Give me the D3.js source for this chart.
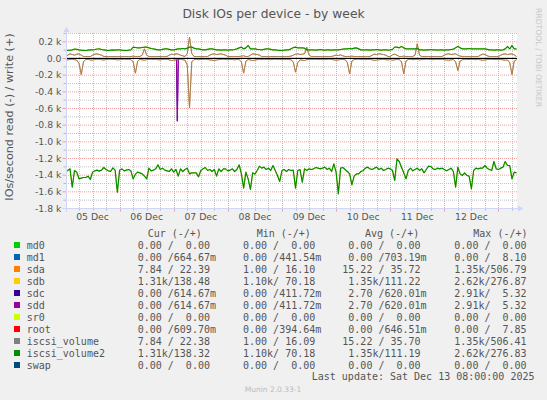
<!DOCTYPE html>
<html><head><meta charset="utf-8">
<script src="https://cdn.jsdelivr.net/npm/d3@7"></script>
<style>
html,body{margin:0;padding:0;background:#F0F0F0;}
svg{display:block;}
text{font-family:"DejaVu Sans",sans-serif;fill:#555;}
text.mono{font-family:"DejaVu Sans Mono",monospace;white-space:pre;}
</style></head><body>
<svg id="c" width="547" height="400"></svg>
<script>
// ---------- data ----------
const title = "Disk IOs per device - by week";
const yAxisLabel = "IOs/second read (-) / write (+)";
const startTime = "2025-12-05T00:00:00";
const endTime = "2025-12-13T08:00:00";
const yMin = -1800, yMax = 300;
const yTickValues = [200, 0, -200, -400, -600, -800, -1000, -1200, -1400, -1600, -1800];
const yTickLabels = ["0.2 k", "0.0", "-0.2 k", "-0.4 k", "-0.6 k", "-0.8 k", "-1.0 k", "-1.2 k", "-1.4 k", "-1.6 k", "-1.8 k"];
const xTickDays = ["2025-12-05", "2025-12-06", "2025-12-07", "2025-12-08", "2025-12-09", "2025-12-10", "2025-12-11", "2025-12-12"];
const xTickLabels = ["05 Dec", "06 Dec", "07 Dec", "08 Dec", "09 Dec", "10 Dec", "11 Dec", "12 Dec"];

const seriesNames = ["md0", "md1", "sda", "sdb", "sdc", "sdd", "sr0", "root", "iscsi_volume", "iscsi_volume2", "swap"];
const seriesColors = ["#00CC00", "#0066B3", "#FF8000", "#FFCC00", "#330099", "#990099", "#CCFF00", "#FF0000", "#808080", "#008F00", "#00487D"];

const legendHeaders = ["Cur (-/+)", "Min (-/+)", "Avg (-/+)", "Max (-/+)"];
const curValues = [" 0.00 /  0.00", " 0.00 /664.67m", " 7.84 / 22.39", " 1.31k/138.48", " 0.00 /614.67m", " 0.00 /614.67m", " 0.00 /  0.00", " 0.00 /609.70m", " 7.84 / 22.38", " 1.31k/138.32", " 0.00 /  0.00"];
const minValues = [" 0.00 /  0.00", " 0.00 /441.54m", " 1.00 / 16.10", " 1.10k/ 70.18", " 0.00 /411.72m", " 0.00 /411.72m", " 0.00 /  0.00", " 0.00 /394.64m", " 1.00 / 16.09", " 1.10k/ 70.18", " 0.00 /  0.00"];
const avgValues = [" 0.00 /  0.00", " 0.00 /703.19m", "15.22 / 35.72", " 1.35k/111.22", " 2.70 /620.01m", " 2.70 /620.01m", " 0.00 /  0.00", " 0.00 /646.51m", "15.22 / 35.70", " 1.35k/111.19", " 0.00 /  0.00"];
const maxValues = [" 0.00 /  0.00", " 0.00 /  8.10", " 1.35k/506.79", " 2.62k/276.87", " 2.91k/  5.32", " 2.91k/  5.32", " 0.00 /  0.00", " 0.00 /  7.85", " 1.35k/506.41", " 2.62k/276.83", " 0.00 /  0.00"];
const lastUpdate = "Last update: Sat Dec 13 08:00:00 2025";
const muninVersion = "Munin 2.0.33-1";
const watermark = "RRDTOOL / TOBI OETIKER";

// hourly samples (IOs/s), starting at startTime
const iscsi2Read = [
 1356,1344,1324,1544,1344,1364,1444,1436,1428,1428,
 1412,1452,1364,1348,1340,1352,1340,1308,1332,1348,
 1356,1312,1340,1604,1340,1324,1348,1340,1332,1348,
 1444,1388,1364,1372,1384,1412,1444,1316,1348,1340,
 1324,1276,1332,1316,1340,1348,1356,1324,1364,1332,
 1412,1324,1356,1332,1316,1384,1372,1372,1372,1420,
 1344,1324,1308,1344,1332,1356,1332,1412,1324,1356,
 1324,1324,1348,1340,1324,1356,1332,1276,1384,1556,
 1364,1444,1572,1372,1388,1344,1292,1316,1304,1332,
 1316,1344,1284,1344,1404,1476,1344,1332,1356,1332,
 1344,1340,
 1556,1344,1332,1484,1324,1344,1324,1332,1324,1308,
 1316,1324,1316,1304,1332,1316,1356,1264,1364,1624,
 1316,1308,1332,1356,1384,1516,1412,1384,1384,1356,
 1344,1316,1304,1324,1332,1316,1304,1332,1316,1344,
 1332,1316,1324,1344,1464,1204,1236,1304,1372,1444,
 1344,1316,1348,1332,1316,1344,1324,1372,1332,1292,
 1296,1324,1332,1316,1324,1316,1332,1348,1332,1316,
 1356,1544,1304,1384,1404,1372,1404,1412,1564,1344,
 1316,1324,1316,1316,1284,1316,1332,1344,1236,1324,
 1332,1316,1304,1236,1284,1284,1444,1364,1372];
const iscsi2Write = [
 96,98,100,104,114,110,104,100,98,96,
 100,104,104,108,114,116,108,104,100,96,
 100,104,100,104,104,100,98,96,100,104,
 136,132,128,128,132,136,136,128,120,116,
 110,104,104,110,116,116,110,104,104,110,
 116,116,120,116,124,136,136,124,116,116,
 110,104,104,110,116,116,110,104,104,100,
 104,104,100,104,104,108,116,128,136,116,
 128,156,116,116,116,110,108,104,110,116,
 116,110,104,104,100,98,96,100,104,104,
 116,130,136,128,128,128,124,104,104,104,
 104,100,104,108,104,100,104,104,100,104,104,104,108,
 112,116,116,120,116,124,128,116,104,104,
 104,104,100,104,104,108,104,100,104,104,100,104,110,
 136,136,128,144,128,116,116,116,116,116,120,
 104,104,100,104,104,108,104,104,100,104,104,100,104,104,108,112,
 130,144,128,116,116,116,120,116,116,116,116,116,116,116,110,
 104,104,100,104,104,100,104,116,144,116,156,116,116];
const iscsiWrite = [
 24,40,56,48,40,52,56,40,24,24,
 24,24,40,52,56,48,40,24,24,24,
 24,24,24,24,24,24,24,24,24,24,
 28,24,24,24,40,116,40,24,24,24,
 24,24,24,24,24,24,40,52,48,56,
 52,40,32,24,60,256,60,24,24,24,
 24,24,24,24,40,52,56,48,52,56,
 48,40,24,24,24,24,24,24,28,32,
 24,24,40,56,52,48,40,24,24,24,
 24,24,24,24,24,24,24,24,24,24,
 28,40,52,56,48,52,56,136,40,24,
 24,24,24,24,24,24,24,24,24,32,
 40,36,44,32,24,24,24,28,24,24,
 24,24,24,24,24,24,40,52,48,56,
 52,48,40,24,24,44,52,40,24,24,
 28,24,24,24,24,40,176,40,24,24,
 24,24,24,24,24,24,24,24,40,52,
 56,48,52,56,40,28,24,24,24,24,
 24,24,24,24,40,52,48,32,24,24,
 24,24,24,40,52,56,48,52,56,44,
 24];
const iscsiRead = [
 12,16,10,8,14,20,60,192,36,12,
 10,16,20,12,8,10,14,18,12,10,
 8,10,12,16,14,10,8,12,10,12,
 40,176,30,10,16,20,14,10,8,12,
 10,14,16,12,10,8,16,24,20,16,
 12,10,14,20,80,592,40,12,10,14,
 12,10,8,12,16,20,24,18,12,10,
 8,12,14,10,12,16,10,12,40,176,
 30,12,18,24,20,14,10,12,8,10,
 12,14,10,8,12,10,14,12,10,12,
 16,40,164,50,16,20,24,14,12,10,
 10,8,12,10,14,12,10,8,12,16,
 20,16,12,10,14,50,184,30,12,10,
 8,12,10,14,12,10,16,22,18,14,
 12,10,14,16,12,20,16,10,12,40,
 184,30,12,10,14,12,10,16,12,10,
 8,10,12,14,10,12,10,8,14,18,
 20,16,12,40,144,30,14,12,10,12,
 10,12,14,10,16,20,18,12,10,8,
 12,10,14,12,16,20,18,50,192,30,
 16];
// sparse series as [hour offset, value]
const sddRead = [[0,0],[49.2,0],[49.6,752],[50.0,0],[200,0]];
const zeroFlat = [[0,0],[200,0]];
const md1Write = [[0,0.70],[200,0.70]];
const sddWrite = [[0,0.62],[200,0.62]];
const rootWrite = [[0,0.65],[200,0.65]];

const seriesRead = [zeroFlat, zeroFlat, iscsiRead, iscsi2Read, sddRead, sddRead, zeroFlat, zeroFlat, iscsiRead, iscsi2Read, zeroFlat];
const seriesWrite = [zeroFlat, md1Write, iscsiWrite, iscsi2Write, sddWrite, sddWrite, zeroFlat, rootWrite, iscsiWrite, iscsi2Write, zeroFlat];

// ---------- drawing ----------
const svg = d3.select("#c");
const t0 = new Date(startTime), t1 = new Date(endTime);
const x = d3.scaleTime().domain([t0, t1]).range([65.5, 516.5]);
const y = d3.scaleLinear().domain([yMin, yMax]).range([208.5, 33.5]);
const HOUR = 3600000;
const X0 = 66, X1 = 517, Y0 = 33, Y1 = 208.5;

function toPts(arr, sign) {
  return arr.map((d, i) => Array.isArray(d)
    ? {t: new Date(+t0 + d[0] * HOUR), v: sign * d[1]}
    : {t: new Date(+t0 + i * HOUR), v: sign * d});
}

// canvas
svg.append("rect").attr("x", X0).attr("y", Y0).attr("width", X1 - X0).attr("height", Y1 - Y0).attr("fill", "#fff");

const gGrid = svg.append("g");
const minorCol = "#c4c4c4", majorCol = "#f2a0a0";
// vertical grid
const minorT = d3.timeHour.every(6).range(t0, t1).filter(t => t.getHours() !== 0);
const majorT = d3.timeDay.range(new Date(+t0 + 1), t1);
minorT.forEach(t => {
  const xx = Math.round(x(t)) + 0.5;
  gGrid.append("line").attr("x1", xx).attr("x2", xx).attr("y1", Y0).attr("y2", 208)
    .attr("stroke", minorCol).attr("stroke-dasharray", "1,1");
  gGrid.append("line").attr("x1", xx).attr("x2", xx).attr("y1", 208).attr("y2", 210.5).attr("stroke", "#bbb");
});
majorT.forEach(t => {
  const xx = Math.round(x(t)) + 0.5;
  gGrid.append("line").attr("x1", xx).attr("x2", xx).attr("y1", Y0).attr("y2", 208)
    .attr("stroke", majorCol).attr("stroke-dasharray", "1,1");
  gGrid.append("line").attr("x1", xx).attr("x2", xx).attr("y1", 208).attr("y2", 211.5).attr("stroke", "#f0a0a0");
});
// horizontal grid
d3.range(yMin + 100, yMax + 1, 100).forEach(v => {
  const yy = y(v);
  const major = v % 200 === 0;
  gGrid.append("line").attr("x1", X0).attr("x2", X1).attr("y1", yy).attr("y2", yy)
    .attr("stroke", major ? majorCol : minorCol).attr("stroke-dasharray", "1,1");
  gGrid.append("line").attr("x1", major ? 62.5 : 63.5).attr("x2", 66).attr("y1", yy).attr("y2", yy)
    .attr("stroke", major ? "#f0a0a0" : "#bbb");
});

// series
svg.append("clipPath").attr("id", "clip").append("rect")
  .attr("x", X0).attr("y", Y0).attr("width", X1 - X0).attr("height", Y1 - Y0);
const gLines = svg.append("g").attr("clip-path", "url(#clip)");
const line = d3.line().x(d => x(d.t)).y(d => y(d.v));
seriesNames.forEach((n, i) => {
  [toPts(seriesRead[i], -1), toPts(seriesWrite[i], 1)].forEach(pts => {
    gLines.append("path").attr("d", line(pts)).attr("fill", "none")
      .attr("stroke", seriesColors[i]).attr("stroke-width", n === "iscsi_volume2" ? 1.2 : 1)
      .attr("stroke-opacity", n === "iscsi_volume" ? 0.75 : 1)
      .attr("stroke-linejoin", "round");
  });
});
// zero rule
gLines.append("line").attr("x1", X0).attr("x2", X1).attr("y1", y(0)).attr("y2", y(0))
  .attr("stroke", "#000").attr("stroke-width", 1);

// axes
const axisCol = "#CFD6F8";
svg.append("line").attr("x1", 62).attr("x2", 519).attr("y1", 208.5).attr("y2", 208.5).attr("stroke", axisCol);
svg.append("line").attr("x1", 66.5).attr("x2", 66.5).attr("y1", 212).attr("y2", 30).attr("stroke", axisCol);
svg.append("path").attr("d", "M518,205.5L523.5,208.5L518,211.5Z").attr("fill", axisCol);
svg.append("path").attr("d", "M63.5,32L66.5,26.5L69.5,32Z").attr("fill", axisCol);

// y tick labels
yTickValues.forEach((v, i) => {
  svg.append("text").attr("x", 61.5).attr("y", y(v) + 3.3).attr("text-anchor", "end")
    .attr("font-size", "9.3px").text(yTickLabels[i]);
});
// x tick labels (centred at noon)
xTickDays.forEach((d, i) => {
  const t = new Date(d + "T12:00:00");
  svg.append("text").attr("x", x(t)).attr("y", 220).attr("text-anchor", "middle")
    .attr("font-size", "9.3px").text(xTickLabels[i]);
});

// title & labels
svg.append("text").attr("x", 273.5).attr("y", 18).attr("text-anchor", "middle")
  .attr("font-size", "12.3px").text(title);
svg.append("text").attr("transform", "translate(13,117) rotate(-90)").attr("text-anchor", "middle")
  .attr("font-size", "11.2px").text(yAxisLabel);
svg.append("text").attr("transform", "translate(535.5,8) rotate(90)")
  .attr("font-size", "7.7px").style("fill", "#c8c8c8").text(watermark);

// legend
const colX = [131.7, 237, 342.3, 448.3];
const headX = [147.7, 256.7, 365, 473.3];
legendHeaders.forEach((h, j) => {
  svg.append("text").attr("class", "mono").attr("x", headX[j]).attr("y", 237)
    .attr("font-size", "10px").text(h);
});
const cols = [curValues, minValues, avgValues, maxValues];
seriesNames.forEach((n, i) => {
  const by = 249 + i * 12;
  svg.append("rect").attr("x", 14).attr("y", by - 7).attr("width", 6).attr("height", 6).attr("fill", seriesColors[i]);
  svg.append("text").attr("class", "mono").attr("x", 26.7).attr("y", by).attr("font-size", "10px").text(n);
  cols.forEach((c, j) => {
    svg.append("text").attr("class", "mono").attr("x", colX[j]).attr("y", by)
      .attr("font-size", "10px").text(c[i]);
  });
});
svg.append("text").attr("class", "mono").attr("x", 534.5).attr("y", 380).attr("text-anchor", "end")
  .attr("font-size", "10px").text(lastUpdate);
svg.append("text").attr("x", 273).attr("y", 392).attr("text-anchor", "middle")
  .attr("font-size", "7.5px").style("fill", "#bbb").text(muninVersion);
</script>
</body></html>
